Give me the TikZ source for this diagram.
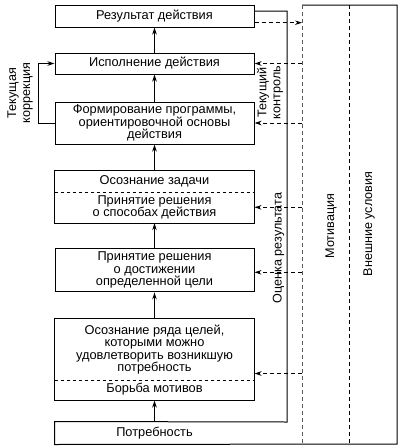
\documentclass[tikz,border=0pt]{standalone}
\usepackage{fontspec}
\setmainfont{Liberation Sans}
\usetikzlibrary{arrows.meta}
\tikzset{
  box/.style={draw, minimum width=199pt, inner sep=0pt, align=center,
    font=\fontsize{12.8}{12.6}\selectfont},
  part/.style={box, draw=none},
  vlbl/.style={rotate=90, inner sep=0pt, align=center,
    font=\fontsize{12.6}{14}\selectfont},
  dsharr/.style={dash pattern=on 4pt off 3pt, ->},
}
\begin{document}
\begin{tikzpicture}[x=1pt, y=-1pt, line width=1pt,
    >={Stealth[length=7pt, width=4.5pt]}]
    \useasboundingbox (0,0) rectangle (401,448);

    % ступени действия
    \node[box, minimum height=22pt] (res) at (154.5,16) {Результат действия};
    \node[box, minimum height=21pt] (exec) at (154.5,63.5) {Исполнение действия};
    \node[box, minimum height=42pt] (prog) at (154.5,123) {Формирование программы,\\ориентировочной основы\\действия};
    \node[part, minimum height=21.3pt] (task) at (154.5,181.3) {Осознание задачи};
    \node[part, minimum height=30.7pt] (way) at (154.5,207.3) {Принятие решения\\о способах действия};
    \node[box, minimum height=43.3pt] (goal) at (154.5,270.3) {Принятие решения\\о достижении\\определенной цели};
    \node[part, minimum height=61pt] (aims) at (154.5,349.5) {Осознание ряда целей,\\которыми можно\\удовлетворить возникшую\\потребность};
    \node[part, minimum height=21pt] (fight) at (154.5,389.5) {Борьба мотивов};
    \node[part, minimum height=22pt] (need) at (154.5,433) {Потребность};

    \draw (task.north west) rectangle (way.south east);
    \draw[dashed] (task.south west) -- (task.south east);
    \draw (aims.north west) rectangle (fight.south east);
    \draw[dashed] (aims.south west) -- (aims.south east);

    % внешняя рамка
    \coordinate (fbtop) at (287,11);
    \coordinate (fbbot) at (287,422);
    \coordinate (envtop) at (302,5);
    \coordinate (envbot) at (302,444);
    \coordinate (septop) at (349,5);
    \coordinate (sepbot) at (349,444);
    \coordinate (cornr) at (397,5);

    \draw (res.east |- fbtop) -- (fbtop) -- (fbbot) -- (need.north west)
        -- (need.south west) -- (cornr |- envbot) -- (cornr) -- (envtop);
    \draw[black!65, dash pattern=on 4pt off 3pt] (envtop) -- (envbot);
    \draw[dash pattern=on 4pt off 3pt] (septop) -- (sepbot);

    % стрелки вверх
    \draw[->] (exec) -- (res);
    \draw[->] (prog) -- (exec);
    \draw[->] (task.north) -- (prog);
    \draw[->] (goal) -- (way.south);
    \draw[->] (aims.north) -- (goal);
    \draw[->] (need.north) -- (fight.south);

    % коррекция
    \draw[->] (prog.west) -- ++(-16,0) |- (exec.west);

    % пунктирные связи
    \draw[dsharr] ([yshift=-6.7pt]res.east) -- ([yshift=-6.7pt]res.east -| envtop);
    \draw[dsharr] (envtop |- exec) -- (exec);
    \draw[dsharr] (envtop |- prog) -- (prog);
    \draw[dsharr] (envtop |- way) -- (way);
    \draw[dsharr] ([yshift=-2pt]envtop |- goal) -- ([yshift=-2pt]goal.east);
    \draw[dsharr] ([yshift=7pt]envtop |- aims.south) -- ([yshift=7pt]aims.south east);

    % подписи
    \node[vlbl] (corr) at (20,93) {Текущая\\коррекция};
    \node[vlbl] (cntrl) at (270,92.5) {Текущий\\контроль};
    \node[vlbl] (eval) at (278.5,248) {Оценка результата};
    \node[vlbl] (motiv) at (331,226) {Мотивация};
    \node[vlbl] (ext) at (369,224) {Внешние условия};
\end{tikzpicture}
\end{document}
